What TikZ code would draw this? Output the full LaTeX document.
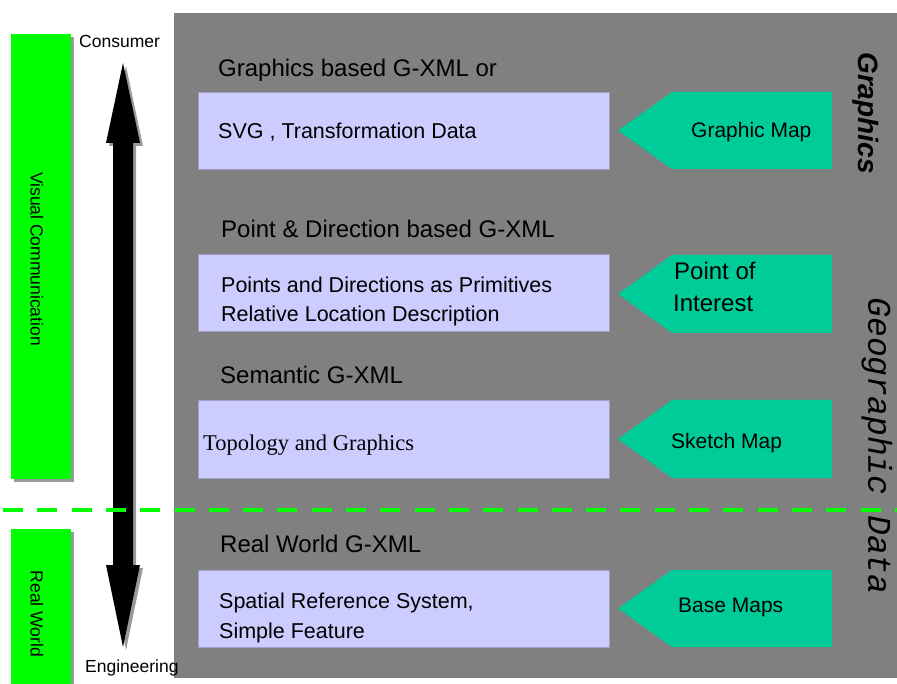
\documentclass[tikz,border=0pt]{standalone}
\usepackage{fontspec}
\setmainfont{Liberation Sans}
\newfontfamily\seriffam{Liberation Serif}
\newfontfamily\monofam{Liberation Mono}
\definecolor{panelgray}{HTML}{808080}
\definecolor{lavender}{HTML}{CCCCFF}
\definecolor{lavedge}{HTML}{A0A0C4}
\definecolor{sourceteal}{HTML}{00CC99}
\definecolor{bargreen}{HTML}{00FF00}
\definecolor{shadowgray}{HTML}{9A9A9A}
\begin{document}
\begin{tikzpicture}[x=1pt,y=-1pt,
  layerbox/.style={fill=lavender,draw=lavedge,line width=0.8pt,inner sep=0pt,
    minimum width=411pt,minimum height=77pt,anchor=north west},
  head/.style={inner sep=0pt,anchor=base west,font=\fontsize{24}{28}\selectfont},
  body/.style={inner sep=0pt,anchor=base west,font=\fontsize{21.5}{26}\selectfont},
  srclabel/.style={inner sep=0pt,anchor=base west,font=\fontsize{21}{25}\selectfont},
  endlabel/.style={inner sep=0pt,anchor=base west,font=\fontsize{17.5}{20}\selectfont},
  barlabel/.style={inner sep=0pt,rotate=-90,font=\fontsize{17.5}{20}\selectfont},
  sidetitle/.style={inner sep=0pt,rotate=-90}]
\useasboundingbox (0,0) rectangle (897,684);

% grey panel holding the layers
\fill[panelgray] (174,13) rectangle (897,678);

% green side bars with drop shadows
\fill[shadowgray] (14,37) rectangle (74,482);
\fill[bargreen] (11,34) rectangle (71,479);
\fill[shadowgray] (14,532) rectangle (74,684);
\fill[bargreen] (11,529) rectangle (71,684);
\node[barlabel] (visual) at (37,259) {Visual Communication};
\node[barlabel] (realworld) at (37,614) {Real World};

% consumer / engineering double arrow with shadow
\fill[shadowgray] (126,66) -- (143,146) -- (136,146) -- (136,568) -- (143,568)
  -- (126,650) -- (109,568) -- (116,568) -- (116,146) -- (109,146) -- cycle;
\fill[black] (123,63) -- (140,143) -- (133,143) -- (133,565) -- (140,565)
  -- (123,647) -- (106,565) -- (113,565) -- (113,143) -- (106,143) -- cycle;
\node[endlabel] (consumer) at (79,48) {Consumer};
\node[endlabel] (engineering) at (85,672) {Engineering};

% boundary between visual layers and the real world layer
\draw[bargreen,line width=4.5pt,dash pattern=on 20pt off 14.3pt] (3,510) -- (897,510);

% layer boxes
\node[layerbox] (svgbox) at (198,92) {};
\node[layerbox] (pointbox) at (198,254) {};
\node[layerbox,minimum height=78pt] (topobox) at (198,400) {};
\node[layerbox] (spatialbox) at (198,570) {};

\node[head] (h1) at (218,77) {Graphics based G-XML or};
\node[body] (t1) at (218,139) {SVG , Transformation Data};
\node[head] (h2) at (221,238) {Point \& Direction based G-XML};
\node[body] (t2a) at (221,293) {Points and Directions as Primitives};
\node[body] (t2b) at (221,322) {Relative Location Description};
\node[head] (h3) at (220,384) {Semantic G-XML};
\node[inner sep=0pt,anchor=base west,font=\seriffam\fontsize{22.5}{26}\selectfont] (t3) at (203,450) {Topology and Graphics};
\node[head] (h4) at (220,552) {Real World G-XML};
\node[body] (t4a) at (219,608) {Spatial Reference System,};
\node[body] (t4b) at (219,638) {Simple Feature};

% source pentagons pointing at the layers
\foreach \top/\bot in {92/169, 255/333, 400/478, 570/647}{
  \fill[sourceteal] (832,\top) -- (672,\top) -- (618,{(\top+\bot)/2}) -- (672,\bot) -- (832,\bot) -- cycle;
}
\node[srclabel] (graphicmap) at (691,138) {Graphic Map};
\node[srclabel,font=\fontsize{24}{28}\selectfont] (poi1) at (674,280) {Point of};
\node[srclabel,font=\fontsize{24}{28}\selectfont] (poi2) at (673,312) {Interest};
\node[srclabel] (sketchmap) at (671,448) {Sketch Map};
\node[srclabel] (basemaps) at (678,612) {Base Maps};

% side titles
\node[sidetitle,font=\bfseries\itshape\fontsize{28}{32}\selectfont] (graphicstitle) at (866,113) {Graphics};
\node[sidetitle,font=\monofam\itshape\fontsize{33}{36}\selectfont] (geotitle) at (877,446) {Geographic Data};
\end{tikzpicture}
\end{document}
